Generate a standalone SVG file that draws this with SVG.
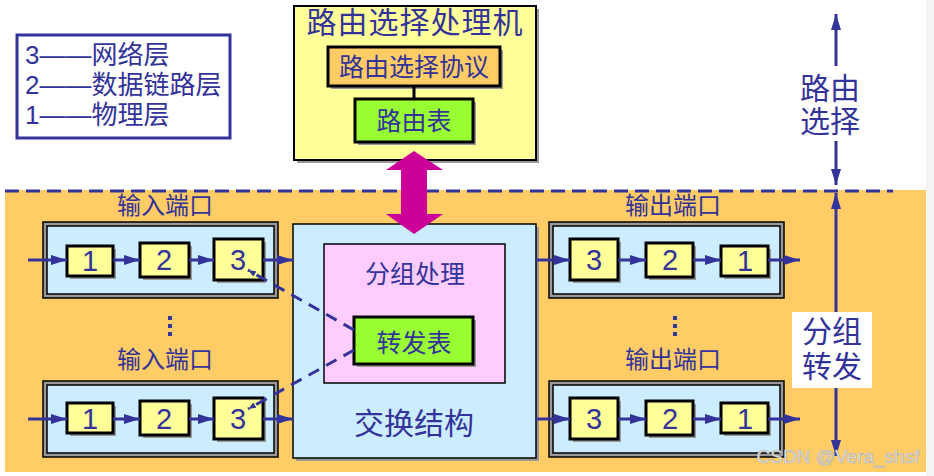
<svg xmlns="http://www.w3.org/2000/svg" width="934" height="476" viewBox="0 0 934 476">
<defs>
<style>
text{font-family:"Liberation Sans","Noto Sans CJK SC",sans-serif;fill:#333399;text-anchor:middle}
.box{stroke:#000;stroke-width:3}
.y{fill:#FFFF99}
.g{fill:#99FF33}
.o{fill:#FFCC66}
.sh{fill:#999999}
.ln{stroke:#333399;stroke-width:3;fill:none}
.dash{stroke:#333399;stroke-width:3;fill:none;stroke-dasharray:12 8}
.num{font-size:29px}
.f24{font-size:24px}
.f25{font-size:25px}
.f30{font-size:30px}
</style>
<marker id="ah" viewBox="0 0 10 10" refX="10" refY="5" markerWidth="8" markerHeight="6" markerUnits="userSpaceOnUse" orient="auto" preserveAspectRatio="none">
<path d="M0,0 L10,5 L0,10 z" fill="#333399"/>
</marker>
<marker id="ahb" viewBox="0 0 10 10" refX="10" refY="5" markerWidth="16" markerHeight="10" markerUnits="userSpaceOnUse" orient="auto" preserveAspectRatio="none">
<path d="M0,0 L10,5 L0,10 z" fill="#333399"/>
</marker>
<g id="portFrame">
<rect x="0" y="0" width="235" height="76" fill="#999999" stroke="#000" stroke-width="1.5"/>
<rect x="4" y="4" width="227" height="68" fill="#CCECFF" stroke="#000" stroke-width="1.5"/>
</g>
</defs>
<rect x="0" y="0" width="934" height="476" fill="#ffffff"/>
<rect x="926" y="0" width="8" height="476" fill="#f4f4f4"/>
<rect x="5" y="190" width="921" height="282" fill="#FFCC66"/>

<g id="legend">
<rect x="17" y="35" width="213" height="103" fill="#ffffff" stroke="#333399" stroke-width="3"/>
<text x="25" y="64" style="font-size:26px;text-anchor:start">3——网络层</text>
<text x="25" y="94" style="font-size:26px;text-anchor:start">2——数据链路层</text>
<text x="25" y="124" style="font-size:26px;text-anchor:start">1——物理层</text>
</g>

<g id="routing-processor">
<rect x="297" y="9" width="242" height="154" class="sh"/>
<rect x="294" y="6" width="242" height="154" class="y" stroke="#000" stroke-width="2"/>
<text x="415" y="33" style="font-size:30px;letter-spacing:1px">路由选择处理机</text>
</g>
<g id="routing-protocol">
<rect x="331" y="50" width="172" height="39" class="sh"/>
<rect x="328" y="47" width="172" height="39" class="o box"/>
<text x="414" y="76" class="f25">路由选择协议</text>
</g>
<g id="routing-table">
<rect x="358" y="102" width="118" height="43" class="sh"/>
<rect x="355" y="99" width="118" height="43" class="g box"/>
<text x="414" y="130" class="f25">路由表</text>
</g>

<g id="switch-fabric">
<rect x="296" y="227" width="243" height="234" class="sh"/>
<rect x="293" y="224" width="243" height="234" fill="#CCECFF" stroke="#000" stroke-width="1.5"/>
<text x="414" y="434" class="f30">交换结构</text>
</g>
<g id="packet-processing">
<rect x="324" y="244" width="181" height="139" fill="#FFCCFF" stroke="#000" stroke-width="1.5"/>
<text x="415" y="283" class="f25">分组处理</text>
</g>
<g id="forwarding-table">
<rect x="357" y="320" width="119" height="47" class="sh"/>
<rect x="354" y="317" width="119" height="47" class="g box"/>
<text x="414" y="352" class="f25">转发表</text>
</g>

<g id="input-port-1">
<text x="165" y="214" class="f24">输入端口</text>
<use href="#portFrame" x="43" y="222"/>
<rect x="70" y="249" width="46" height="30" class="sh"/><rect x="67" y="246" width="46" height="30" class="y box"/><text x="90" y="271" class="num">1</text>
<rect x="143" y="246" width="49" height="34" class="sh"/><rect x="140" y="243" width="49" height="34" class="y box"/><text x="164" y="270" class="num">2</text>
<rect x="217" y="242" width="49" height="41" class="sh"/><rect x="214" y="239" width="49" height="41" class="y box"/><text x="238" y="270" class="num">3</text>
</g>
<g id="input-port-2">
<text x="165" y="368" class="f24">输入端口</text>
<use href="#portFrame" x="43" y="381"/>
<rect x="70" y="406" width="46" height="30" class="sh"/><rect x="67" y="403" width="46" height="30" class="y box"/><text x="90" y="429" class="num">1</text>
<rect x="143" y="404" width="49" height="34" class="sh"/><rect x="140" y="401" width="49" height="34" class="y box"/><text x="164" y="429" class="num">2</text>
<rect x="217" y="401" width="49" height="41" class="sh"/><rect x="214" y="398" width="49" height="41" class="y box"/><text x="238" y="429" class="num">3</text>
</g>
<g id="output-port-1">
<text x="673" y="214" class="f24">输出端口</text>
<use href="#portFrame" x="549" y="222"/>
<rect x="573" y="242" width="48" height="41" class="sh"/><rect x="570" y="239" width="48" height="41" class="y box"/><text x="594" y="270" class="num">3</text>
<rect x="649" y="246" width="47" height="34" class="sh"/><rect x="646" y="243" width="47" height="34" class="y box"/><text x="670" y="270" class="num">2</text>
<rect x="724" y="249" width="47" height="30" class="sh"/><rect x="721" y="246" width="47" height="30" class="y box"/><text x="745" y="271" class="num">1</text>
</g>
<g id="output-port-2">
<text x="673" y="368" class="f24">输出端口</text>
<use href="#portFrame" x="549" y="381"/>
<rect x="573" y="401" width="48" height="41" class="sh"/><rect x="570" y="398" width="48" height="41" class="y box"/><text x="594" y="429" class="num">3</text>
<rect x="649" y="404" width="47" height="34" class="sh"/><rect x="646" y="401" width="47" height="34" class="y box"/><text x="670" y="429" class="num">2</text>
<rect x="724" y="406" width="47" height="30" class="sh"/><rect x="721" y="403" width="47" height="30" class="y box"/><text x="745" y="429" class="num">1</text>
</g>

<g id="dots" fill="#333399">
<rect x="168" y="316" width="4" height="4"/><rect x="168" y="324" width="4" height="4"/><rect x="168" y="332" width="4" height="4"/>
<rect x="673" y="316" width="4" height="4"/><rect x="673" y="324" width="4" height="4"/><rect x="673" y="332" width="4" height="4"/>
</g>

<g id="routing-label">
<text x="830" y="99" class="f30">路由</text>
<text x="830" y="132" class="f30">选择</text>
</g>
<g id="forwarding-label">
<rect x="792" y="312" width="80" height="76" fill="#ffffff"/>
<text x="832" y="342" class="f30">分组</text>
<text x="832" y="377" class="f30">转发</text>
</g>

<g id="connectors">
<line x1="5" y1="191" x2="893" y2="191" stroke="#333399" stroke-width="3" stroke-dasharray="14 7"/>
<line x1="414" y1="86" x2="414" y2="99" stroke="#000" stroke-width="3"/>
<path d="M414,151 L443,170 L427,170 L427,214 L443,214 L414,234 L386,214 L401,214 L401,170 L386,170 Z" fill="#CC0099"/>
<line x1="28" y1="260" x2="67" y2="260" class="ln" marker-end="url(#ahb)"/>
<line x1="113" y1="260" x2="140" y2="260" class="ln" marker-end="url(#ahb)"/>
<line x1="189" y1="260" x2="214" y2="260" class="ln" marker-end="url(#ahb)"/>
<line x1="263" y1="260" x2="293" y2="260" class="ln" marker-end="url(#ahb)"/>
<line x1="28" y1="419" x2="67" y2="419" class="ln" marker-end="url(#ahb)"/>
<line x1="113" y1="419" x2="140" y2="419" class="ln" marker-end="url(#ahb)"/>
<line x1="189" y1="419" x2="214" y2="419" class="ln" marker-end="url(#ahb)"/>
<line x1="263" y1="419" x2="293" y2="419" class="ln" marker-end="url(#ahb)"/>
<line x1="536" y1="260" x2="570" y2="260" class="ln" marker-end="url(#ahb)"/>
<line x1="618" y1="260" x2="646" y2="260" class="ln" marker-end="url(#ahb)"/>
<line x1="693" y1="260" x2="721" y2="260" class="ln" marker-end="url(#ahb)"/>
<line x1="768" y1="260" x2="800" y2="260" class="ln" marker-end="url(#ahb)"/>
<line x1="536" y1="419" x2="570" y2="419" class="ln" marker-end="url(#ahb)"/>
<line x1="618" y1="419" x2="646" y2="419" class="ln" marker-end="url(#ahb)"/>
<line x1="693" y1="419" x2="721" y2="419" class="ln" marker-end="url(#ahb)"/>
<line x1="768" y1="419" x2="800" y2="419" class="ln" marker-end="url(#ahb)"/>
<line x1="354" y1="330" x2="248" y2="270" class="dash" marker-end="url(#ah)"/>
<line x1="354" y1="350" x2="248" y2="409" class="dash" marker-end="url(#ah)"/>
<line x1="836" y1="66" x2="836" y2="14" class="ln" marker-end="url(#ahb)"/>
<line x1="836" y1="141" x2="836" y2="185" class="ln" marker-end="url(#ahb)"/>
<line x1="836" y1="312" x2="836" y2="193" class="ln" marker-end="url(#ahb)"/>
<line x1="836" y1="388" x2="836" y2="456" class="ln" marker-end="url(#ahb)"/>
</g>
<text x="838" y="463" style="font-size:19px;fill:#e8e8e8;stroke:#b0b0b0;stroke-width:0.6">CSDN @Vera_shsf</text>
</svg>
